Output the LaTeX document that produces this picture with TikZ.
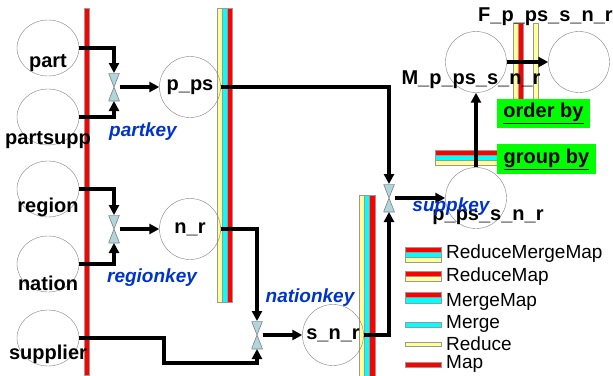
\documentclass[tikz,border=0pt]{standalone}
\usepackage{fontspec}
\setmainfont{Liberation Sans}
\usetikzlibrary{arrows.meta,shapes.geometric}

\definecolor{mapred}{RGB}{255,0,0}
\definecolor{mergecyan}{RGB}{0,255,255}
\definecolor{reduceyellow}{RGB}{255,255,153}
\definecolor{keyblue}{RGB}{0,51,204}
\definecolor{valvecol}{RGB}{176,214,220}
\definecolor{boxgreen}{RGB}{0,255,0}

\tikzset{
  tbl/.style = {ellipse, draw = gray, minimum width = 62pt, minimum height = 56pt, inner sep = 0pt},
  res/.style = {circle, draw = gray, minimum size = 61pt, inner sep = 0pt, font = \bfseries\fontsize{20}{20}\selectfont},
  lbl/.style = {inner sep = 0pt, font = \bfseries\fontsize{20}{20}\selectfont},
  key/.style = {inner sep = 0pt, text = keyblue, font = \bfseries\itshape\fontsize{19}{19}\selectfont},
  leg/.style = {inner sep = 0pt, anchor = west, font = \fontsize{19}{19}\selectfont},
  flow/.style = {-{Triangle[length = 10pt, width = 10pt]}, line width = 3.2pt},
  stripe/.style = {draw = gray!80, line width = 0.5pt},
  opbox/.style = {fill = boxgreen, inner sep = 0pt, font = \bfseries\fontsize{20}{20}\selectfont},
  valve/.style = {minimum width = 11pt, minimum height = 28pt, inner sep = 0pt, outer sep = 0pt,
    path picture = {\filldraw[fill = valvecol, draw = gray, line width = 0.6pt]
      (path picture bounding box.north west) -- (path picture bounding box.north east) -- (path picture bounding box.center) -- cycle
      (path picture bounding box.south west) -- (path picture bounding box.south east) -- (path picture bounding box.center) -- cycle;}}
}

\begin{document}
\begin{tikzpicture}[x = 1pt, y = -1pt]
\useasboundingbox (0,0) rectangle (613,375);
% bars
\filldraw[stripe, fill = mapred] (84,8) rectangle (89,375);
\foreach \c [count = \i from 0] in {reduceyellow, mergecyan, mapred}
  \filldraw[stripe, fill = \c] ({217+5*\i},8) rectangle ++(5,294);
\foreach \c [count = \i from 0] in {reduceyellow, mergecyan, mapred}
  \filldraw[stripe, fill = \c] ({359+5.3*\i},195) rectangle ++(5.3,185);
\foreach \c [count = \i from 0] in {mapred, mergecyan, reduceyellow}
  \filldraw[stripe, fill = \c] (435,{150+5*\i}) rectangle ++(62,5);
\filldraw[stripe, fill = reduceyellow] (513,23) rectangle (518,99);
\filldraw[stripe, fill = mapred] (518,23) rectangle (523,99);
\filldraw[stripe, fill = reduceyellow] (533,23) rectangle (538,99);
% tables
\node[tbl] at (48,48) (part) {};
\node[tbl] at (48,117) (partsupp) {};
\node[tbl] at (48,189) (region) {};
\node[tbl] at (48,264) (nation) {};
\node[tbl] at (48,338) (supplier) {};
\node[lbl] at (48,63) (part-t) {part};
\node[lbl] at (48,140) (partsupp-t) {partsupp};
\node[lbl] at (48,207) (region-t) {region};
\node[lbl] at (48,283) (nation-t) {nation};
\node[lbl] at (48,354) (supplier-t) {supplier};
% valves
\node[valve] at (114,87) (v1) {};
\node[valve] at (114,229) (v2) {};
\node[valve] at (257,335) (v4) {};
\node[valve] at (389,198) (v3) {};
% results
\node[res] at (190,87) (pps) {p\_ps};
\node[res] at (190,229) (nr) {n\_r};
\node[res] at (333,335) (snr) {s\_n\_r};
\node[res] at (476,198) (ppssnr) {};
\node[res] at (476,62) (mres) {};
\node[res] at (579,62) (fres) {};
\node[lbl] at (488,217) (ppssnr-t) {p\_ps\_s\_n\_r};
\node[lbl] at (471,80) (mres-t) {M\_p\_ps\_s\_n\_r};
\node[lbl, anchor = west] at (478,17) (fres-t) {F\_p\_ps\_s\_n\_r};
% keys
\node[key] at (143,132) (partkey) {partkey};
\node[key] at (152,278) (regionkey) {regionkey};
\node[key] at (310,298) (nationkey) {nationkey};
% connectors
\draw[flow] (part.east) -| (v1.north);
\draw[flow] (partsupp.east) -| (v1.south);
\draw[flow] (v1.east) -- (pps.west);
\draw[flow] (region.east) -| (v2.north);
\draw[flow] (nation.east) -| (v2.south);
\draw[flow] (v2.east) -- (nr.west);
\draw[flow] (nr.east) -| (v4.north);
\draw[flow] (supplier.east) -| (164,363) -| (v4.south);
\draw[flow] (v4.east) -- (snr.west);
\draw[flow] (pps.east) -| (v3.north);
\draw[flow] (snr.east) -| (v3.south);
\draw[flow] (v3.east) -- (ppssnr.west);
\draw[flow] (ppssnr.north) -- (mres.south);
\draw[flow] (mres.east) -- (fres.west);
\node[key] at (451,207) (suppkey) {suppkey};
% operators
\node[opbox, minimum width = 93pt, minimum height = 29pt] at (543.5,113.5) (orderby) {\underline{order by}};
\node[opbox, minimum width = 99pt, minimum height = 30pt] at (546.5,159) (groupby) {\underline{group by}};
% legend
\foreach \c [count = \i from 0] in {mapred, mergecyan, reduceyellow}
  \filldraw[stripe, fill = \c] (405,{247+5*\i}) rectangle ++(36,5);
\foreach \c [count = \i from 0] in {mapred, reduceyellow}
  \filldraw[stripe, fill = \c] (405,{271+5*\i}) rectangle ++(36,5);
\foreach \c [count = \i from 0] in {mapred, mergecyan}
  \filldraw[stripe, fill = \c] (405,{292+5.5*\i}) rectangle ++(36,5.5);
\filldraw[stripe, fill = mergecyan] (405,322) rectangle ++(36,5);
\filldraw[stripe, fill = reduceyellow] (405,342) rectangle ++(36,4.5);
\filldraw[stripe, fill = mapred] (405,362) rectangle ++(36,5);
\node[leg] at (446,254) (l-rmm) {ReduceMergeMap};
\node[leg] at (446,277) (l-rm) {ReduceMap};
\node[leg] at (446,302) (l-mm) {MergeMap};
\node[leg] at (446,324) (l-merge) {Merge};
\node[leg] at (446,344) (l-reduce) {Reduce};
\node[leg] at (446,364) (l-map) {Map};
\end{tikzpicture}
\end{document}
